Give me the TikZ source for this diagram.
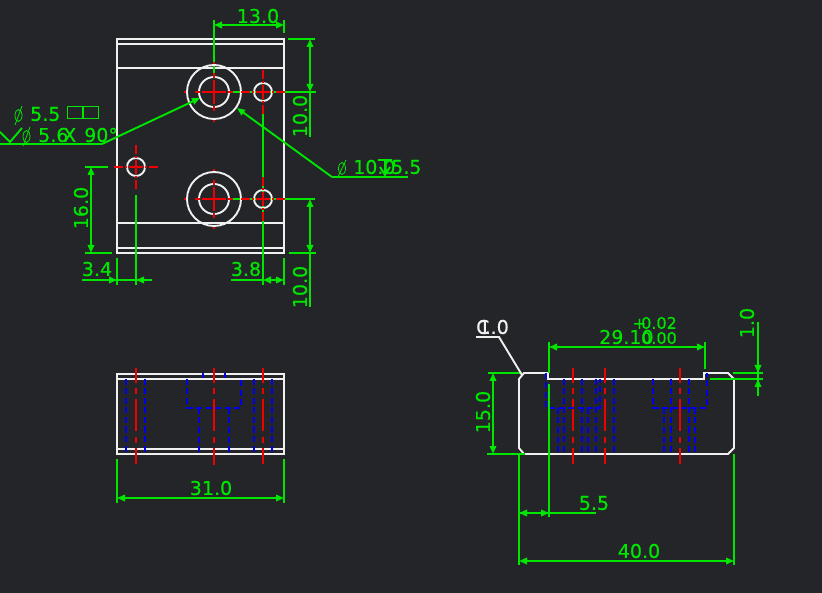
\documentclass[tikz,border=0pt]{standalone}
\usepackage{fontspec}
\setmainfont{DejaVu Sans}[FakeBold=0.5]
\usepackage{tikz}
\usetikzlibrary{arrows.meta}
\definecolor{cadbg}{RGB}{35,37,41}
\definecolor{dimgreen}{RGB}{0,230,0}
\definecolor{cutred}{RGB}{240,0,0}
\definecolor{hidblue}{RGB}{0,0,235}
\definecolor{edgewhite}{RGB}{240,240,240}

\begin{document}
\begin{tikzpicture}[x=1pt, y=-1pt,
    edge/.style={edgewhite, line width=1.9pt},
    dimline/.style={dimgreen, line width=1.9pt},
    dimarrow/.style={dimline, {Triangle[length=8pt,width=6.5pt]}-{Triangle[length=8pt,width=6.5pt]}},
    dimtip/.style={dimline, -{Triangle[length=8pt,width=6.5pt]}},
    dimtext/.style={text=dimgreen, font=\fontsize{19}{19}\selectfont, inner sep=0pt, anchor=center},
    tolerance/.style={dimtext, font=\fontsize{16}{16}\selectfont},
    bigaxis/.style={cutred, line width=1.9pt, dash pattern=on 2pt off 9pt on 5pt off 2pt on 24pt off 2pt on 5pt off 9pt on 2pt},
    smallaxis/.style={cutred, line width=1.9pt, dash pattern=on 9pt off 2pt on 2pt off 2pt on 14pt off 2pt on 2pt off 2pt on 9pt},
    axis/.style={cutred, line width=1.9pt, dash pattern=on 15pt off 5pt on 6pt off 5pt on 32pt off 6pt on 6pt off 5pt on 20pt},
    hidden/.style={hidblue, line width=1.7pt, dash pattern=on 6pt off 3.5pt},
    phi/.style={dimgreen, line width=0.8pt}
]
\useasboundingbox[fill=cadbg] (0,0) rectangle (822,593);

% Top view
\draw[edge] (117,39) rectangle (284,253);
\draw[edge] (117,44) -- (284,44);
\draw[edge] (117,68) -- (284,68);
\draw[edge] (117,223) -- (284,223);
\draw[edge] (117,248) -- (284,248);

% Dimension lines of the top view
\draw[dimline] (214,20) -- (214,78);
\draw[dimline] (284,20) -- (284,33);
\draw[dimarrow] (214,25) -- (284,25);
\node[dimtext] (t130) at (258,16) {13.0};

\draw[dimline] (288,39) -- (315,39);
\draw[dimline] (228,92) -- (316,92);
\draw[dimarrow] (310,39) -- (310,92);
\draw[dimline] (310,92) -- (310,137);
\node[dimtext, rotate=90] (t100a) at (300,116) {10.0};

\draw[dimline] (85,167) -- (108,167);
\draw[dimline] (85,253) -- (112,253);
\draw[dimarrow] (91,167) -- (91,253);
\node[dimtext, rotate=90] (t160) at (81,208) {16.0};

\draw[dimline] (229,199) -- (315,199);
\draw[dimline] (289,253) -- (316,253);
\draw[dimarrow] (310,199) -- (310,253);
\draw[dimline] (310,253) -- (310,307);
\node[dimtext, rotate=90] (t100b) at (300,287) {10.0};

\draw[dimline] (117,258) -- (117,285);
\draw[dimline] (136,195) -- (136,285);
\draw[dimline] (82,280) -- (152,280);
\draw[dimtip] (100,280) -- (117,280);
\draw[dimtip] (152,280) -- (136,280);
\node[dimtext] (t34) at (97,269) {3.4};

\draw[dimline] (284,258) -- (284,285);
\draw[dimline] (263,110) -- (263,285);
\draw[dimline] (231,280) -- (263,280);
\draw[dimarrow] (263,280) -- (284,280);
\node[dimtext] (t38) at (246,269) {3.8};

% Holes
\foreach \hx/\hy in {214/92, 214/199} {
  \draw[edge] (\hx,\hy) circle (27);
  \draw[edge] (\hx,\hy) circle (15);
  \draw[bigaxis] (\hx-30,\hy) -- (\hx+30,\hy);
  \draw[bigaxis] (\hx,\hy-30) -- (\hx,\hy+30);
}
\foreach \hx/\hy in {263/92, 263/199, 136/167} {
  \draw[edge] (\hx,\hy) circle (9);
  \draw[smallaxis] (\hx-22,\hy) -- (\hx+22,\hy);
  \draw[smallaxis] (\hx,\hy-22) -- (\hx,\hy+22);
}

% Leaders
\coordinate (leadl) at (102,144);
\draw[dimtip] (leadl) -- (200,98);
\draw[dimline] (leadl) -- (0,144);
\coordinate (leadr) at (332,177);
\draw[dimtip] (leadr) -- (237,108);
\draw[dimline] (leadr) -- (408,177);

\draw[phi] (18.5,115.5) ellipse (3.5 and 6);
\draw[phi] (15,125) -- (22,106);
\node[dimtext, anchor=west] (t55) at (30,114) {5.5};
\draw[phi, line width=1pt] (67,107) rectangle (98,119);
\draw[phi, line width=1pt] (82,107) -- (82,119);
\draw[phi, line width=1pt] (83.5,107) -- (83.5,119);

\draw[dimline] (0,132) -- (10,142) -- (22,128);
\draw[phi] (26.5,136.5) ellipse (3.5 and 6);
\draw[phi] (23,146) -- (30,127);
\node[dimtext, anchor=west] (t56) at (38,135) {5.6};
\node[dimtext, anchor=west] (tx90) at (63,135) {X\hspace{8pt}90°};

\draw[phi] (342,168.5) ellipse (3.5 and 6);
\draw[phi] (338,177) -- (346,160);
\node[dimtext, anchor=west] (t105) at (353,167) {10.0};
\node[dimtext, anchor=west] (t155) at (391,167) {5.5};
\draw[dimline] (378,160) -- (392,160);
\draw[dimline] (385,160) -- (385,175);
\draw[dimline] (380,167) -- (385,175) -- (390,167);

% Front view
\draw[edge] (117,374) rectangle (284,454);
\draw[edge] (117,379) -- (284,379);
\draw[edge] (117,449) -- (284,449);
\foreach \hx in {136,263} {
  \draw[axis] (\hx,368) -- (\hx,464);
}
\draw[axis] (214,368) -- (214,465);
\foreach \hx in {126,145,254,272} {
  \draw[hidden] (\hx,379) -- (\hx,454);
}
\draw[hidden] (187,379) -- (187,408) -- (241,408) -- (241,379);
\draw[hidden] (199,408) -- (199,454);
\draw[hidden] (229,408) -- (229,454);
\draw[hidblue, line width=1.7pt] (203,373) -- (203,378);
\draw[hidblue, line width=1.7pt] (225,373) -- (225,378);

\draw[dimline] (117,459) -- (117,503);
\draw[dimline] (284,459) -- (284,503);
\draw[dimarrow] (117,498) -- (284,498);
\node[dimtext] (t310) at (211,488) {31.0};

% Side view
\draw[edge] (524,373) -- (548,373) -- (548,379) -- (704,379) -- (704,373) -- (728,373)
  -- (734,379) -- (734,448) -- (728,454) -- (524,454) -- (519,448) -- (519,379) -- cycle;
\foreach \hx in {573,605,680} {
  \draw[axis] (\hx,368) -- (\hx,464);
}
\foreach \hx in {564,582,596,614,671,689} {
  \draw[hidden] (\hx,379) -- (\hx,454);
}
\draw[hidden] (546,373) -- (546,408) -- (600,408) -- (600,379);
\draw[hidden] (558,408) -- (558,454);
\draw[hidden] (588,408) -- (588,454);
\draw[hidden] (653,379) -- (653,408) -- (707,408) -- (707,373);
\draw[hidden] (664,408) -- (664,454);
\draw[hidden] (695,408) -- (695,454);

% Dimension lines of the side view
\draw[dimline] (488,373) -- (520,373);
\draw[dimline] (487,454) -- (525,454);
\draw[dimarrow] (493,373) -- (493,454);
\node[dimtext, rotate=90] (t150) at (483,412) {15.0};

\draw[dimline] (549,342) -- (549,373);
\draw[dimline] (549,384) -- (549,517);
\draw[dimline] (705,342) -- (705,369);
\draw[dimarrow] (549,347) -- (705,347);
\node[dimtext, anchor=west] (t291) at (599,337) {29.10};
\node[tolerance, anchor=east] (tplus) at (677,323) {+\hspace{-5pt}0.02};
\node[tolerance, anchor=east] (tzero) at (677,338) {0.00};

\draw[dimline] (733,373) -- (763,373);
\draw[dimline] (710,379) -- (763,379);
\draw[dimline] (758,322) -- (758,396);
\draw[dimtip] (758,360) -- (758,373);
\draw[dimtip] (758,392) -- (758,379);
\node[dimtext, rotate=90] (t10) at (747,323) {1.0};

\coordinate (leadc) at (499,337);
\draw[edge] (476,337) -- (leadc) -- (522,375);
\node[dimtext, text=edgewhite, anchor=west] (tc) at (476,327) {C};
\node[dimtext, text=edgewhite, anchor=east] (tc10) at (509,327) {1.0};

\draw[dimline] (519,454) -- (519,565);
\draw[dimline] (734,454) -- (734,565);
\draw[dimline] (519,513) -- (596,513);
\draw[dimarrow] (519,513) -- (549,513);
\node[dimtext] (t55b) at (594,503) {5.5};
\draw[dimarrow] (519,561) -- (734,561);
\node[dimtext] (t400) at (639,551) {40.0};

\end{tikzpicture}
\end{document}
